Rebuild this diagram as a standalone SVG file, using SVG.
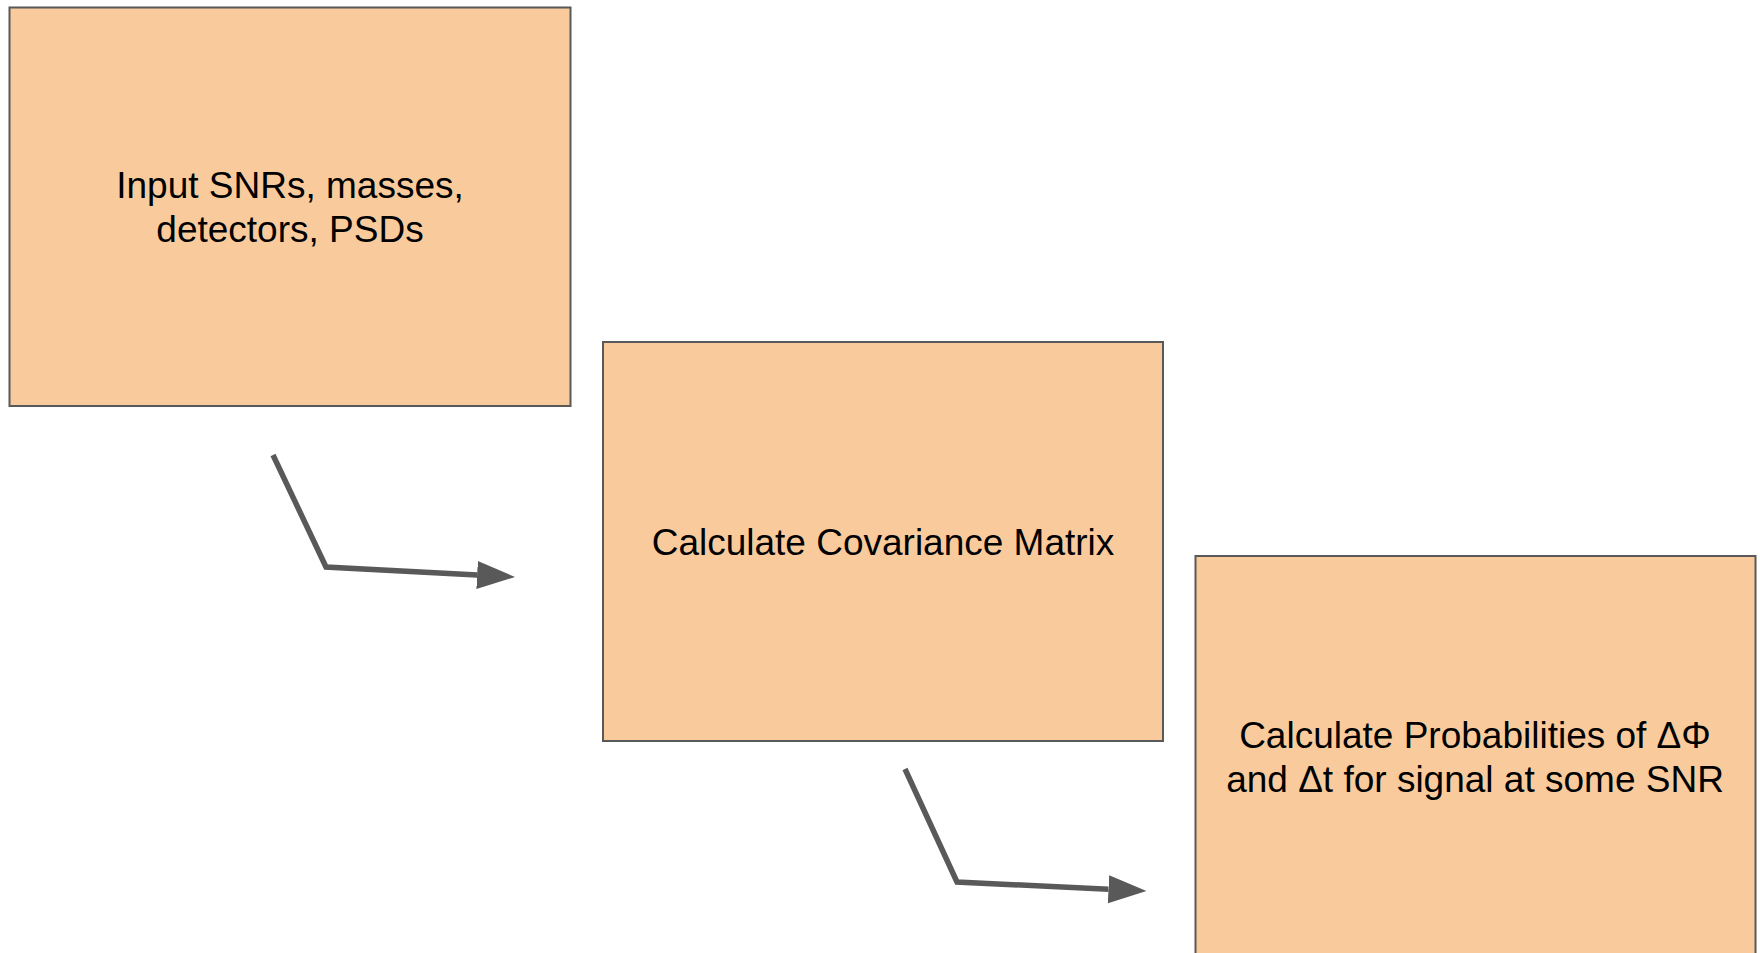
<svg xmlns="http://www.w3.org/2000/svg" width="1760" height="953" viewBox="0 0 1760 953">
<style>
.box{fill:#f9cb9c;stroke:#595959;stroke-width:2}
.lbl{font-family:"Liberation Sans",Arial,sans-serif;font-size:37px;fill:#000;text-anchor:middle}
.conn{fill:none;stroke:#595959;stroke-width:5.5;stroke-linejoin:miter}
</style>
<defs>
<marker id="arrow" markerUnits="userSpaceOnUse" markerWidth="40" markerHeight="30" refX="0" refY="14" orient="auto" viewBox="0 0 40 30">
<path d="M0,0 L38,14 L0,28 z" fill="#595959"/>
</marker>
</defs>
<rect width="1760" height="953" fill="#ffffff"/>
<g id="node-input">
<rect class="box" x="9.5" y="7.5" width="561" height="398.5"/>
<text class="lbl" x="290" y="198">Input SNRs, masses,</text>
<text class="lbl" x="290" y="242">detectors, PSDs</text>
</g>
<g id="node-covariance">
<rect class="box" x="603" y="342" width="560" height="399"/>
<text class="lbl" x="883" y="555">Calculate Covariance Matrix</text>
</g>
<g id="node-probabilities">
<rect class="box" x="1195.5" y="556" width="560" height="402"/>
<text class="lbl" x="1475" y="748">Calculate Probabilities of ΔΦ</text>
<text class="lbl" x="1475" y="792">and Δt for signal at some SNR</text>
</g>
<g id="connectors">
<polyline class="conn" points="273,455 326,567 477.1,575" marker-end="url(#arrow)"/>
<polyline class="conn" points="905,769 957,882 1108.5,889.2" marker-end="url(#arrow)"/>
</g>
</svg>
